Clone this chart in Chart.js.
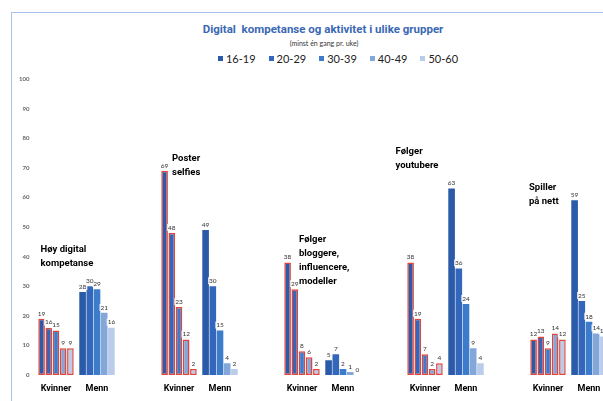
<!DOCTYPE html>
<html lang="no">
<head>
<meta charset="utf-8">
<title>Digital kompetanse og aktivitet i ulike grupper</title>
<script src="https://cdn.jsdelivr.net/npm/chart.js@4.4.1/dist/chart.umd.min.js"></script>
<style>
  html, body { margin: 0; padding: 0; background: #fff; }
  body { width: 603px; height: 401px; overflow: hidden; position: relative; font-family: Lato, "Open Sans", sans-serif; }
  .frame { position: absolute; left: 11px; top: 12px; width: 700px; height: 500px; border: 1.5px solid #a9c4e6; box-sizing: border-box; }
  .title { position: absolute; top: 22px; left: 0; width: 646px; text-align: center; font-family: Roboto, sans-serif; font-weight: bold; font-size: 11.5px; color: #3a68b4; white-space: pre; }
  .subtitle { position: absolute; top: 39px; left: 0; width: 648px; text-align: center; font-size: 7px; color: #333; }
  #legend { position: absolute; top: 52px; left: 0; width: 676px; display: flex; justify-content: center; font-size: 11px; color: #222; }
  #legend .item { display: inline-flex; align-items: center; margin: 0 6.5px; }
  #legend i { display: inline-block; width: 5px; height: 5px; margin-right: 3px; }
  .chart { position: absolute; left: 0; top: 0; width: 612px; height: 401px; }
</style>
</head>
<body>
<div class="frame"></div>
<div class="title">Digital  kompetanse og aktivitet i ulike grupper</div>
<div class="subtitle">(minst én gang pr. uke)</div>
<div id="legend"></div>
<div class="chart"><canvas id="myChart"></canvas></div>

<script>
'use strict'

// age groups (one dataset each)
const ages = ['16-19', '20-29', '30-39', '40-49', '50-60'];
const genders = ['Kvinner', 'Menn'];

// percent per age group, women / men
const hoyKvinner = [19, 16, 15, 9, 9];
const hoyMenn = [28, 30, 29, 21, 16];
const selfieKvinner = [69, 48, 23, 12, 2];
const selfieMenn = [49, 30, 15, 4, 2];
const bloggKvinner = [38, 29, 8, 6, 2];
const bloggMenn = [5, 7, 2, 1, 0];
const youtubeKvinner = [38, 19, 7, 2, 4];
const youtubeMenn = [63, 36, 24, 9, 4];
const spillKvinner = [12, 13, 9, 14, 12];
const spillMenn = [59, 25, 18, 14, 13];

const yTicks = [0, 10, 20, 30, 40, 50, 60, 70, 80, 90, 100];

const ageColors = ['#2b5aa9', '#3367bc', '#3d7bcb', '#84a7da', '#bacce9'];
const kvinnerBorder = '#e2453c';

const groups = [
    [hoyKvinner, hoyMenn],
    [selfieKvinner, selfieMenn],
    [bloggKvinner, bloggMenn],
    [youtubeKvinner, youtubeMenn],
    [spillKvinner, spillMenn]
];

// captions next to each group: y in percent, dx in px from the group's left edge
const captions = [
    { lines: ['Høy digital', 'kompetanse'], at: 42.2, dx: 5 },
    { lines: ['Poster', 'selfies'], at: 73, dx: 13.5 },
    { lines: ['Følger', 'bloggere,', 'influencere,', 'modeller'], at: 45.6, dx: 17.5 },
    { lines: ['Følger', 'youtubere'], at: 75.3, dx: -9 },
    { lines: ['Spiller', 'på nett'], at: 63.2, dx: 1.5 }
];

// categories: Kvinner, Menn, spacer ... (last spacer dropped)
const labels = [];
groups.forEach(() => labels.push(genders[0], genders[1], ''));
labels.pop();

const datasets = ages.map((age, i) => {
    const data = [];
    groups.forEach(g => data.push(g[0][i], g[1][i], null));
    data.pop();
    return {
        label: age,
        data: data,
        backgroundColor: ageColors[i],
        borderColor: c => c.dataIndex % 3 === 0 ? kvinnerBorder : 'rgba(0,0,0,0)',
        borderWidth: c => c.dataIndex % 3 === 0 ? 1.5 : 0,
        borderSkipped: false,
        categoryPercentage: 0.878,
        barPercentage: 0.92
    };
});

// html legend
const legendBox = document.getElementById('legend');
ages.forEach((age, i) => {
    legendBox.insertAdjacentHTML('beforeend',
        `<span class="item"><i style="background:${ageColors[i]}"></i>${age}</span>`);
});

// value above each bar
const barValueLabels = {
    id: 'barValueLabels',
    afterDatasetsDraw(chart) {
        const { ctx } = chart;
        const items = [];
        chart.data.datasets.forEach((ds, i) => {
            chart.getDatasetMeta(i).data.forEach((bar, j) => {
                const v = ds.data[j];
                if (v === null || v === undefined) return;
                items.push({ x: bar.x, y: bar.y, text: String(v) });
            });
        });
        ctx.save();
        ctx.font = '6.5px Lato';
        ctx.textAlign = 'center';
        ctx.textBaseline = 'bottom';
        ctx.fillStyle = 'rgba(255,255,255,0.8)';
        items.forEach(it => {
            const w = ctx.measureText(it.text).width;
            ctx.fillRect(it.x - w / 2 - 1, it.y - 9, w + 2, 7);
        });
        ctx.fillStyle = '#333';
        items.forEach(it => ctx.fillText(it.text, it.x, it.y - 2));
        ctx.restore();
    }
};

// bold group captions
const groupCaptions = {
    id: 'groupCaptions',
    afterDatasetsDraw(chart) {
        const { ctx } = chart;
        const xs = chart.scales.x;
        const ys = chart.scales.y;
        const step = xs.getPixelForTick(1) - xs.getPixelForTick(0);
        ctx.save();
        ctx.font = 'bold 9.5px Roboto';
        ctx.fillStyle = '#000';
        ctx.textAlign = 'left';
        ctx.textBaseline = 'middle';
        captions.forEach((cap, g) => {
            const left = xs.getPixelForTick(g * 3) - step / 2 + cap.dx;
            const top = ys.getPixelForValue(cap.at);
            cap.lines.forEach((line, k) => ctx.fillText(line, left, top + k * 14));
        });
        ctx.restore();
    }
};

const drawChart = () => {
    const ctx = document.getElementById('myChart');
    new Chart(ctx, {
        type: 'bar',
        data: { labels: labels, datasets: datasets },
        options: {
            responsive: true,
            maintainAspectRatio: false,
            animation: false,
            layout: { padding: { top: 79, right: 2.5, left: 0, bottom: 0 } },
            plugins: {
                legend: { display: false },
                title: { display: false },
                tooltip: { enabled: false }
            },
            scales: {
                x: {
                    grid: { display: false, drawTicks: false },
                    border: { display: false },
                    ticks: {
                        autoSkip: false,
                        maxRotation: 0,
                        padding: 8,
                        color: '#000',
                        font: { family: 'Roboto', size: 9, weight: 'bold' }
                    },
                    afterFit: scale => { scale.height = 26; }
                },
                y: {
                    min: 0,
                    max: 100,
                    afterBuildTicks: scale => { scale.ticks = yTicks.map(v => ({ value: v })); },
                    grid: { display: false, drawTicks: false },
                    border: { display: false },
                    ticks: {
                        padding: 6,
                        color: '#666',
                        font: { family: 'Lato', size: 6, weight: 'bold' }
                    },
                    afterFit: scale => { scale.width = 35.5; }
                }
            }
        },
        plugins: [barValueLabels, groupCaptions]
    });
};

// wait for the canvas fonts before drawing
Promise.all([
    document.fonts.load('bold 10px Roboto'),
    document.fonts.load('6.5px Lato'),
    document.fonts.load('bold 6px Lato')
]).then(drawChart, drawChart);
</script>
</body>
</html>
